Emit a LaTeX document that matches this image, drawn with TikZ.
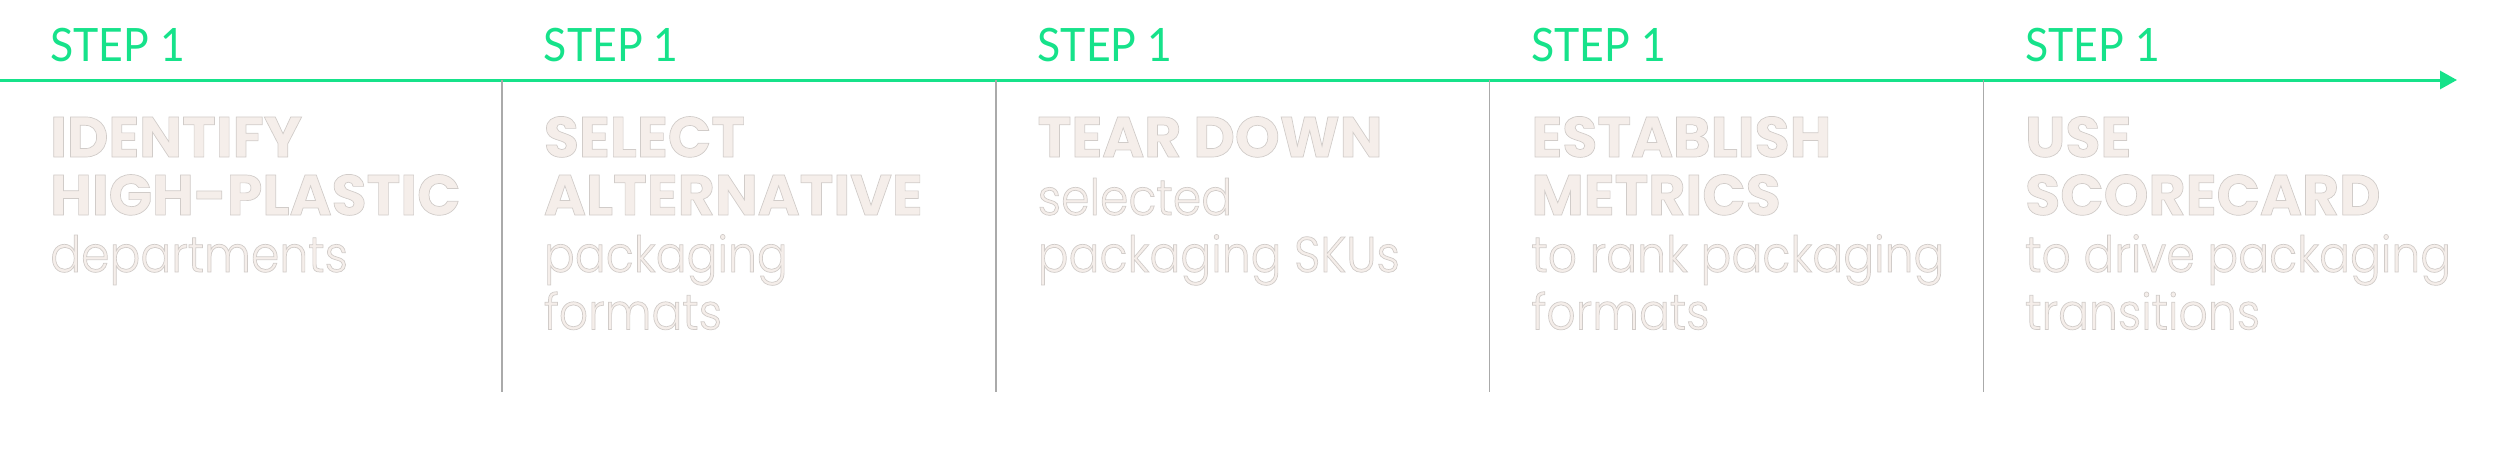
\documentclass[tikz,border=0pt]{standalone}
\usepackage{fontspec}
\usetikzlibrary{arrows.meta}
\setmainfont{Poppins}
\newfontfamily\stepfont{Lato}[FakeStretch=0.93]
\newfontfamily\lightfont{Poppins Light}[FakeStretch=0.915]
\definecolor{stepgreen}{RGB}{22,226,138}
\definecolor{sepgray}{RGB}{170,170,170}
\definecolor{txtfill}{RGB}{245,238,234}
\newcommand{\outl}[1]{\special{pdf:literal direct 2 Tr 0.7 w 0.82 0.80 0.79 RG}#1\special{pdf:literal direct 0 Tr}}
\tikzset{
  steplbl/.style={anchor=base west, inner sep=0pt, text=stepgreen, font=\stepfont\fontsize{46}{46}\selectfont},
  headtxt/.style={anchor=base west, inner sep=0pt, text=txtfill, font=\bfseries\fontsize{57}{57}\selectfont},
  subtxt/.style={anchor=base west, inner sep=0pt, text=txtfill, font=\lightfont\fontsize{50}{50}\selectfont},
  sepline/.style={draw=sepgray, line width=1.5pt},
  timeline/.style={draw=stepgreen, line width=3pt, -{Triangle[length=17pt,width=18pt]}},
}
\begin{document}
\begin{tikzpicture}[x=1pt,y=-1pt]
\useasboundingbox (0,0) rectangle (2500,452);
% timeline
\coordinate (tstart) at (0,80);
\coordinate (tend) at (2457,80);
\draw[timeline] (tstart) -- (tend);
% separators
\foreach \i/\x in {1/502,2/995.75,3/1489.5,4/1983.25}{
  \coordinate (s\i t) at (\x,80);
  \coordinate (s\i b) at (\x,392);
  \draw[sepline] (s\i t) -- (s\i b);
}
% step labels
\foreach \i/\x in {1/50,2/543.75,3/1037.5,4/1531.25,5/2025}{
  \node[steplbl] (step\i) at (\x,62) {STEP 1};
}
% column 1
\node[headtxt] (c1a) at (50,157) {\outl{IDENTIFY}};
\node[headtxt] (c1b) at (50,215) {\outl{HIGH-PLASTIC}};
\node[subtxt]  (c1c) at (50,272) {\outl{departments}};
% column 2
\node[headtxt] (c2a) at (543.75,157) {\outl{SELECT}};
\node[headtxt] (c2b) at (543.75,215) {\outl{ALTERNATIVE}};
\node[subtxt]  (c2c) at (543.75,272) {\outl{packaging}};
\node[subtxt]  (c2d) at (543.75,329.5) {\outl{formats}};
% column 3
\node[headtxt] (c3a) at (1037.5,157) {\outl{TEAR DOWN}};
\node[subtxt]  (c3b) at (1037.5,215) {\outl{selected}};
\node[subtxt]  (c3c) at (1037.5,272) {\outl{packaging SKUs}};
% column 4
\node[headtxt] (c4a) at (1531.25,157) {\outl{ESTABLISH}};
\node[headtxt] (c4b) at (1531.25,215) {\outl{METRICS}};
\node[subtxt]  (c4c) at (1531.25,272) {\outl{to rank packaging}};
\node[subtxt]  (c4d) at (1531.25,329.5) {\outl{formats}};
% column 5
\node[headtxt] (c5a) at (2025,157) {\outl{USE}};
\node[headtxt] (c5b) at (2025,215) {\outl{SCORECARD}};
\node[subtxt]  (c5c) at (2025,272) {\outl{to drive packaging}};
\node[subtxt]  (c5d) at (2025,329.5) {\outl{transitions}};
\end{tikzpicture}
\end{document}
